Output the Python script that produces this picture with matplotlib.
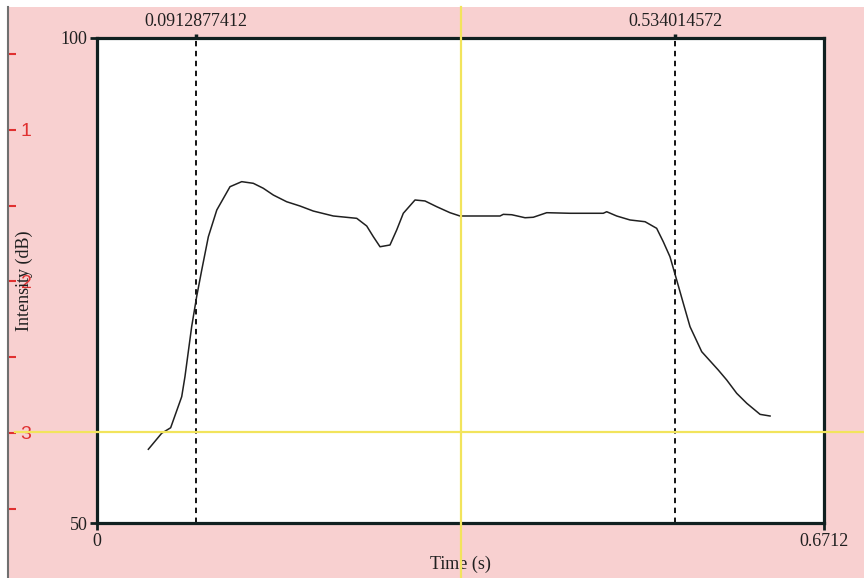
import matplotlib
matplotlib.use("Agg")
import matplotlib.pyplot as plt
import matplotlib.transforms as mtransforms
from matplotlib.patches import Rectangle
from matplotlib.lines import Line2D

# ---- data ----
time_s = [0.0474, 0.0597, 0.0680, 0.0782, 0.0812, 0.0874, 0.0920, 0.0967, 0.1028,
          0.1106, 0.1228, 0.1336, 0.1443, 0.1535, 0.1628, 0.1751, 0.1874, 0.1997,
          0.2182, 0.2398, 0.2490, 0.2551, 0.2613, 0.2705, 0.2767, 0.2828, 0.2936,
          0.3028, 0.3136, 0.3259, 0.3351, 0.3721, 0.3751, 0.3829, 0.3952, 0.4028,
          0.4152, 0.4367, 0.4674, 0.4706, 0.4798, 0.4921, 0.5060, 0.5167, 0.5228,
          0.5290, 0.5352, 0.5413, 0.5475, 0.5583, 0.5736, 0.5814, 0.5906, 0.5999,
          0.6122, 0.6214]
intensity_db = [57.60, 59.25, 59.82, 63.02, 65.08, 70.24, 73.33, 76.08, 79.51,
                82.27, 84.67, 85.19, 85.02, 84.51, 83.81, 83.12, 82.68, 82.16,
                81.65, 81.41, 80.62, 79.52, 78.48, 78.66, 80.21, 81.93, 83.30,
                83.20, 82.61, 81.99, 81.65, 81.65, 81.82, 81.78, 81.47, 81.52,
                81.99, 81.93, 81.93, 82.09, 81.65, 81.24, 81.06, 80.38, 79.00,
                77.45, 75.05, 72.65, 70.24, 67.66, 65.77, 64.74, 63.37, 62.34,
                61.20, 61.03]
x_min, x_max = 0.0, 0.6712
y_min, y_max = 50, 100
markers = [0.0912877412, 0.534014572]
marker_labels = ["0.0912877412", "0.534014572"]
cursor_t = 0.3361
cursor_db = 59.4
side_major = [1, 2, 3, 4]
side_minor = [0.5, 1.5, 2.5, 3.5]

W, H = 864, 578
fig = plt.figure(figsize=(W / 100, H / 100), dpi=100)
fig.patch.set_facecolor("white")

pink = "#f8d0d0"
fig.add_artist(Rectangle((8 / W, 0), 1 - 8 / W, 1 - 7 / H, transform=fig.transFigure,
                         facecolor=pink, edgecolor="none", zorder=-10))

serif = ["Liberation Serif", "DejaVu Serif"]
dark = "#102020"

# ---- side (red) axis ----
top_px, bot_px = -30, 608
v_top = 1 + (top_px - 130) / 151.5
v_bot = 1 + (bot_px - 130) / 151.5
ax2 = fig.add_axes([8 / W, 1 - bot_px / H, 0.001, (bot_px - top_px) / H])
ax2.set_ylim(v_bot, v_top)
ax2.patch.set_visible(False)
for s in ["top", "right", "bottom"]:
    ax2.spines[s].set_visible(False)
ax2.spines["left"].set_color("#707070")
ax2.spines["left"].set_linewidth(1.5)
ax2.spines["left"].set_bounds(v_bot, 1 + (7 - 130) / 151.5)
ax2.set_xticks([])
ax2.set_yticks(side_major)
ax2.set_yticklabels([str(v) for v in side_major])
ax2.set_yticks(side_minor, minor=True)
ax2.tick_params(axis="y", which="both", direction="in", length=6, width=1.5,
                color="#e03030", labelcolor="#e03030", labelsize=14, pad=-9,
                left=True, labelleft=True)
for lab in ax2.get_yticklabels():
    lab.set_horizontalalignment("left")
    lab.set_fontfamily(["Liberation Sans", "DejaVu Sans"])

# ---- main axes ----
ax = fig.add_axes([97 / W, 1 - 523 / H, (824 - 97) / W, (523 - 38) / H])
ax.set_facecolor("white")
ax.set_xlim(x_min, x_max)
ax.set_ylim(y_min, y_max)
for s in ax.spines.values():
    s.set_linewidth(2.3)
    s.set_color(dark)

ax.plot(time_s, intensity_db, color="#202020", lw=1.1, zorder=3)

for m in markers:
    ax.axvline(m, color="black", lw=1.3, ls=(0, (3, 2.5)), zorder=2)

ax.set_xticks([x_min, x_max])
ax.set_xticklabels(["0", "0.6712"], fontfamily=serif, fontsize=13, color="#202020")
ax.set_yticks([y_min, y_max])
ax.set_yticklabels(["50", "100"], fontfamily=serif, fontsize=13, color="#202020")
ax.tick_params(axis="both", length=5, width=2, color=dark, pad=2)

top = ax.secondary_xaxis("top")
top.set_xticks(markers)
top.set_xticklabels(marker_labels, fontfamily=serif, fontsize=13, color="#202020")
top.tick_params(length=3, width=2.5, color=dark, pad=3)
top.spines["top"].set_visible(False)

ax.set_xlabel("Time (s)", fontfamily=serif, fontsize=13, color="#202020", labelpad=4)
fig.text(24 / W, 1 - 281 / H, "Intensity (dB)", rotation=90, ha="center", va="center",
         fontfamily=serif, fontsize=13, color="#202020")

# ---- yellow cursor ----
yellow = "#f2e45c"
tv = mtransforms.blended_transform_factory(ax.transData, fig.transFigure)
fig.add_artist(Line2D([cursor_t, cursor_t], [0, 1 - 7 / H], transform=tv,
                      color=yellow, lw=1.6, zorder=5))
th = mtransforms.blended_transform_factory(fig.transFigure, ax.transData)
fig.add_artist(Line2D([15 / W, 1], [cursor_db, cursor_db], transform=th,
                      color=yellow, lw=1.6, zorder=5))

fig.savefig("out.png", dpi=100, facecolor=fig.get_facecolor())
